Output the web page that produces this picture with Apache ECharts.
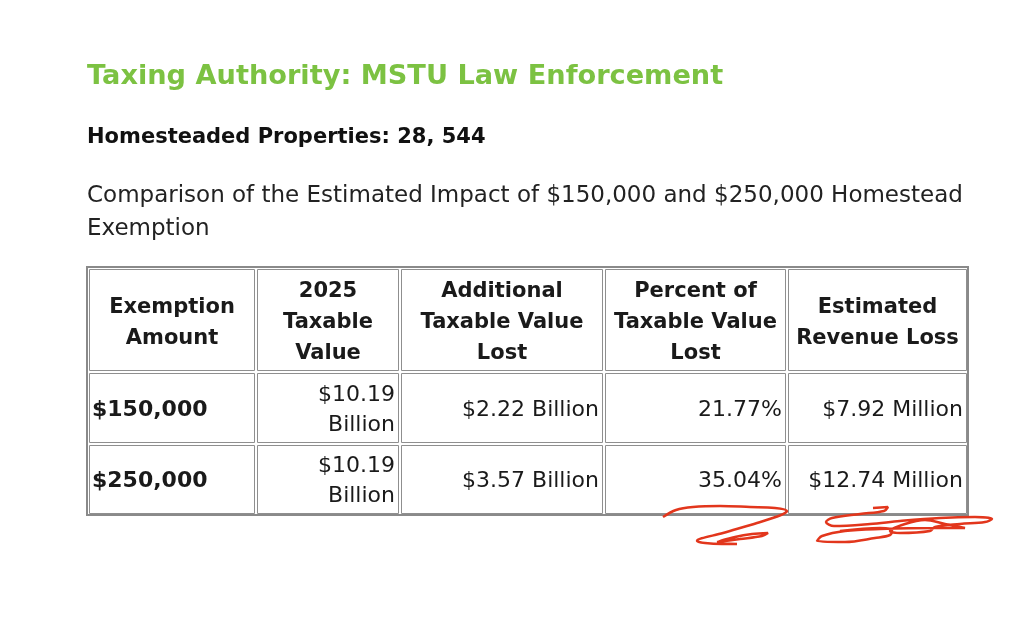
<!DOCTYPE html>
<html>
<head>
<meta charset="utf-8">
<script src="https://cdn.jsdelivr.net/npm/echarts@6/dist/echarts.min.js"></script>
<style>
html,body{margin:0;padding:0;background:#fff;}
#chart{width:1032px;height:634px;}
</style>
</head>
<body>
<div id="chart"></div>
<script>
// ---- data ----
const chartTitle = 'Taxing Authority: MSTU Law Enforcement';
const subTitle = 'Homesteaded Properties: 28, 544';
const description = 'Comparison of the Estimated Impact of $150,000 and $250,000 Homestead\nExemption';
const headers = ['Exemption\nAmount', '2025\nTaxable\nValue', 'Additional\nTaxable Value\nLost', 'Percent of\nTaxable Value\nLost', 'Estimated\nRevenue Loss'];
const exemptionAmounts = ['$150,000', '$250,000'];
const taxableValue2025 = ['$10.19\nBillion', '$10.19\nBillion'];
const additionalValueLost = ['$2.22 Billion', '$3.57 Billion'];
const percentLost = ['21.77%', '35.04%'];
const revenueLoss = ['$7.92 Million', '$12.74 Million'];

// hand-drawn red annotation strokes (page units)
const strokeA = [[663,517],[676,510],[693,507],[720,506],[750,507],[775,508],[787,511],[781,515],[757,523],[723,533],[697,541],[705,543],[722,544],[737,544],[718,542],[735,537],[752,534],[768,533],[762,536],[740,539],[717,542]];
const strokeB = [[873,508],[888,507],[884,511],[860,514],[832,518],[826,522],[834,526],[870,524],[900,521],[940,518],[975,517],[992,519],[985,522],[960,524],[935,527],[930,531],[900,533],[890,531],[905,524],[925,520],[945,524],[965,528],[935,528],[880,529],[845,531],[822,536],[817,541],[845,542],[875,538],[890,535],[892,530],[880,528],[840,531]];

// ---- layout (styling only) ----
const colWidths = [166, 142, 202, 181, 179];
const rowHeights = [102, 70, 69];
const edge = 3, gap = 2;
const tableW = 883, tableH = 250;

const bodyColumns = [exemptionAmounts, taxableValue2025, additionalValueLost, percentLost, revenueLoss];
const cells = [];
headers.forEach((h, c) => cells.push([c, 0, h]));
for (let r = 0; r < exemptionAmounts.length; r++) {
  bodyColumns.forEach((col, c) => cells.push([c, r + 1, col[r]]));
}

function colStart(c){ let x = edge; for (let i=0;i<c;i++) x += colWidths[i] + gap; return x; }
function rowStart(r){ let y = edge; for (let i=0;i<r;i++) y += rowHeights[i] + gap; return y; }

const tableFont = '"DejaVu Sans", sans-serif';

function renderCell(params, api) {
  const c = api.value(0), r = api.value(1);
  const text = cells[params.dataIndex][2];
  const x0 = colStart(c), y0 = rowStart(r);
  const p0 = api.coord([x0, y0]);
  const p1 = api.coord([x0 + colWidths[c], y0 + rowHeights[r]]);
  const left = p0[0], top = p0[1], w = p1[0] - p0[0], h = p1[1] - p0[1];
  let tx, align, weight = 'normal', size = 22, lh = 30, dy = 2;
  if (r === 0) { tx = left + w / 2; align = 'center'; weight = 'bold'; size = 21; lh = 31; dy = 3; }
  else if (c === 0) { tx = left + 3; align = 'left'; weight = 'bold'; }
  else { tx = left + w - 4; align = 'right'; }
  return {
    type: 'group',
    children: [
      { type: 'rect', shape: { x: left + 0.5, y: top + 0.5, width: w - 1, height: h - 1 },
        style: { fill: '#fff', stroke: '#8f8f8f', lineWidth: 1 } },
      { type: 'text', style: { text: text, x: tx, y: top + h / 2 + dy, align: align, verticalAlign: 'middle',
        fontFamily: tableFont, fontSize: size, fontWeight: weight, lineHeight: lh, fill: '#1a1a1a' } }
    ]
  };
}

function renderFrame(params, api) {
  const p0 = api.coord([0, 0]);
  const p1 = api.coord([tableW, tableH]);
  return { type: 'rect', shape: { x: p0[0] + 1, y: p0[1] + 1, width: p1[0] - p0[0] - 2, height: p1[1] - p0[1] - 2 },
    style: { fill: 'none', stroke: '#8a8a8a', lineWidth: 2 } };
}

const chart = echarts.init(document.getElementById('chart'));
chart.setOption({
  backgroundColor: '#ffffff',
  animation: false,
  title: [
    { text: chartTitle, left: 87, top: 63, padding: 0, textStyle: { color: '#7cc242', fontSize: 27.2, fontWeight: 'bold', fontFamily: tableFont } },
    { text: subTitle, left: 87, top: 127, padding: 0, textStyle: { color: '#111', fontSize: 21, fontWeight: 'bold', fontFamily: tableFont } },
    { text: description, left: 87, top: 180, padding: 0, textStyle: { color: '#222', fontSize: 23, fontWeight: 'normal', fontFamily: tableFont, lineHeight: 33 } }
  ],
  grid: [
    { left: 86, top: 266, width: tableW, height: tableH },
    { left: 0, top: 0, width: 1032, height: 634 }
  ],
  xAxis: [
    { gridIndex: 0, type: 'value', min: 0, max: tableW, show: false },
    { gridIndex: 1, type: 'value', min: 0, max: 1032, show: false }
  ],
  yAxis: [
    { gridIndex: 0, type: 'value', min: 0, max: tableH, inverse: true, show: false },
    { gridIndex: 1, type: 'value', min: 0, max: 634, inverse: true, show: false }
  ],
  series: [
    { type: 'custom', xAxisIndex: 0, yAxisIndex: 0, data: [[0, 0]], renderItem: renderFrame, silent: true },
    { type: 'custom', xAxisIndex: 0, yAxisIndex: 0, data: cells.map(d => [d[0], d[1]]), renderItem: renderCell, silent: true },
    { type: 'line', xAxisIndex: 1, yAxisIndex: 1, data: strokeA, smooth: 0.35, symbol: 'none', lineStyle: { color: '#e2361c', width: 2.5 }, silent: true, z: 5 },
    { type: 'line', xAxisIndex: 1, yAxisIndex: 1, data: strokeB, smooth: 0.35, symbol: 'none', lineStyle: { color: '#e2361c', width: 2.5 }, silent: true, z: 5 }
  ]
});
</script>
</body>
</html>
